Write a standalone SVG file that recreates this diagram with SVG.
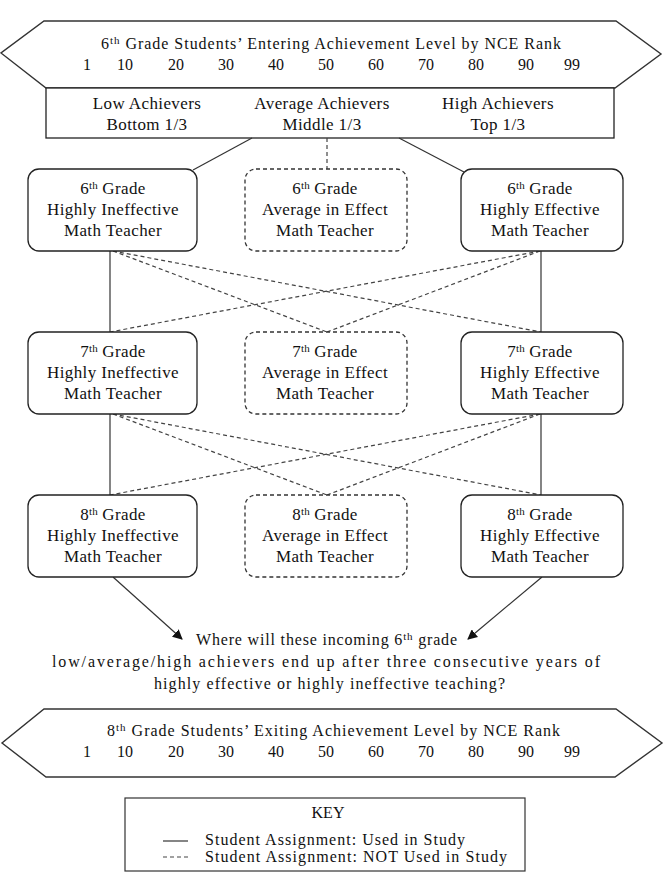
<svg xmlns="http://www.w3.org/2000/svg" width="672" height="879" viewBox="0 0 672 879">
<style>
text { font-family: "Liberation Serif", "Times New Roman", serif; font-size: 16px; fill: #111; }
.c { text-anchor: middle; }
.n { font-size: 17px; letter-spacing: 0.4px; }
.sup { font-size: 11px; letter-spacing: 0; }
.hex { fill: #fff; stroke: #333; stroke-width: 1.4; }
.box { fill: #fff; stroke: #222; stroke-width: 1.3; }
.dbox { fill: #fff; stroke: #333; stroke-width: 1.3; stroke-dasharray: 4 3; }
.solid { stroke: #333; stroke-width: 1.2; fill: none; }
.dash { stroke: #444; stroke-width: 1.2; stroke-dasharray: 4 3; fill: none; }
.arrow { stroke: #333; stroke-width: 1.2; fill: none; marker-end: url(#ah); }
</style>
<defs>
<marker id="ah" viewBox="0 0 10 10" refX="9" refY="5" markerWidth="10" markerHeight="10" markerUnits="userSpaceOnUse" orient="auto">
<path d="M0,0 L10,5 L0,10 z" fill="#111"/>
</marker>
</defs>
<rect width="672" height="879" fill="#fff"/>

<g id="entering">
<polygon class="hex" points="44,21 616,21 661,54 615,88 46,88 1,53"/>
<text x="101" y="49" textLength="460" lengthAdjust="spacing">6<tspan class="sup" dy="-5">th</tspan><tspan dy="5"> Grade Students’ Entering Achievement Level by NCE Rank</tspan></text>
<g class="c">
<text x="87" y="70">1</text><text x="125" y="70">10</text><text x="176" y="70">20</text><text x="226" y="70">30</text><text x="276" y="70">40</text><text x="326" y="70">50</text><text x="376" y="70">60</text><text x="426" y="70">70</text><text x="476" y="70">80</text><text x="526" y="70">90</text><text x="572" y="70">99</text>
</g>
</g>

<g id="achievers">
<rect class="box" x="46" y="88" width="568" height="50"/>
<text class="c n" x="147" y="109">Low Achievers</text>
<text class="c n" x="147" y="130">Bottom 1/3</text>
<text class="c n" x="322" y="109">Average Achievers</text>
<text class="c n" x="322" y="130">Middle 1/3</text>
<text class="c n" x="498" y="109">High Achievers</text>
<text class="c n" x="498" y="130">Top 1/3</text>
</g>

<g id="connectors">
<line class="solid" x1="252" y1="138" x2="193" y2="170"/>
<line class="dash" x1="327" y1="138" x2="327" y2="169"/>
<line class="solid" x1="399" y1="138" x2="464" y2="172"/>

<line class="solid" x1="110" y1="251" x2="110" y2="332"/>
<line class="solid" x1="541" y1="251" x2="541" y2="332"/>
<line class="dash" x1="113" y1="251" x2="327" y2="332"/>
<line class="dash" x1="113" y1="251" x2="541" y2="332"/>
<line class="dash" x1="540" y1="251" x2="110" y2="332"/>
<line class="dash" x1="540" y1="251" x2="327" y2="332"/>

<line class="solid" x1="110" y1="414" x2="110" y2="495"/>
<line class="solid" x1="541" y1="414" x2="541" y2="495"/>
<line class="dash" x1="113" y1="414" x2="327" y2="495"/>
<line class="dash" x1="113" y1="414" x2="541" y2="495"/>
<line class="dash" x1="540" y1="414" x2="110" y2="495"/>
<line class="dash" x1="540" y1="414" x2="327" y2="495"/>

<line class="arrow" x1="113" y1="577" x2="182" y2="639"/>
<line class="arrow" x1="542" y1="577" x2="468" y2="639"/>
</g>

<g id="g6-ineffective">
<rect class="box" x="28" y="169" width="169" height="82" rx="11"/>
<text class="c n" x="113" y="194">6<tspan class="sup" dy="-5">th</tspan><tspan dy="5"> Grade</tspan></text>
<text class="c n" x="113" y="215">Highly Ineffective</text>
<text class="c n" x="113" y="236">Math Teacher</text>
</g>
<g id="g6-average">
<rect class="dbox" x="245" y="169" width="162" height="82" rx="11"/>
<text class="c n" x="325" y="194">6<tspan class="sup" dy="-5">th</tspan><tspan dy="5"> Grade</tspan></text>
<text class="c n" x="325" y="215">Average in Effect</text>
<text class="c n" x="325" y="236">Math Teacher</text>
</g>
<g id="g6-effective">
<rect class="box" x="461" y="169" width="162" height="82" rx="11"/>
<text class="c n" x="540" y="194">6<tspan class="sup" dy="-5">th</tspan><tspan dy="5"> Grade</tspan></text>
<text class="c n" x="540" y="215">Highly Effective</text>
<text class="c n" x="540" y="236">Math Teacher</text>
</g>

<g id="g7-ineffective">
<rect class="box" x="28" y="332" width="169" height="82" rx="11"/>
<text class="c n" x="113" y="357">7<tspan class="sup" dy="-5">th</tspan><tspan dy="5"> Grade</tspan></text>
<text class="c n" x="113" y="378">Highly Ineffective</text>
<text class="c n" x="113" y="399">Math Teacher</text>
</g>
<g id="g7-average">
<rect class="dbox" x="245" y="332" width="162" height="82" rx="11"/>
<text class="c n" x="325" y="357">7<tspan class="sup" dy="-5">th</tspan><tspan dy="5"> Grade</tspan></text>
<text class="c n" x="325" y="378">Average in Effect</text>
<text class="c n" x="325" y="399">Math Teacher</text>
</g>
<g id="g7-effective">
<rect class="box" x="461" y="332" width="162" height="82" rx="11"/>
<text class="c n" x="540" y="357">7<tspan class="sup" dy="-5">th</tspan><tspan dy="5"> Grade</tspan></text>
<text class="c n" x="540" y="378">Highly Effective</text>
<text class="c n" x="540" y="399">Math Teacher</text>
</g>

<g id="g8-ineffective">
<rect class="box" x="28" y="495" width="169" height="82" rx="11"/>
<text class="c n" x="113" y="520">8<tspan class="sup" dy="-5">th</tspan><tspan dy="5"> Grade</tspan></text>
<text class="c n" x="113" y="541">Highly Ineffective</text>
<text class="c n" x="113" y="562">Math Teacher</text>
</g>
<g id="g8-average">
<rect class="dbox" x="245" y="495" width="162" height="82" rx="11"/>
<text class="c n" x="325" y="520">8<tspan class="sup" dy="-5">th</tspan><tspan dy="5"> Grade</tspan></text>
<text class="c n" x="325" y="541">Average in Effect</text>
<text class="c n" x="325" y="562">Math Teacher</text>
</g>
<g id="g8-effective">
<rect class="box" x="461" y="495" width="162" height="82" rx="11"/>
<text class="c n" x="540" y="520">8<tspan class="sup" dy="-5">th</tspan><tspan dy="5"> Grade</tspan></text>
<text class="c n" x="540" y="541">Highly Effective</text>
<text class="c n" x="540" y="562">Math Teacher</text>
</g>

<g id="question">
<text x="196" y="645" textLength="261" lengthAdjust="spacing">Where will these incoming 6<tspan class="sup" dy="-5">th</tspan><tspan dy="5"> grade</tspan></text>
<text x="52" y="667" textLength="548" lengthAdjust="spacing">low/average/high achievers end up after three consecutive years of</text>
<text x="154" y="689" textLength="351" lengthAdjust="spacing">highly effective or highly ineffective teaching?</text>
</g>

<g id="exiting">
<polygon class="hex" points="44,709 616,709 662,743 615,777 46,777 2,743"/>
<text x="107" y="736" textLength="453" lengthAdjust="spacing">8<tspan class="sup" dy="-5">th</tspan><tspan dy="5"> Grade Students’ Exiting Achievement Level by NCE Rank</tspan></text>
<g class="c">
<text x="87" y="757">1</text><text x="125" y="757">10</text><text x="176" y="757">20</text><text x="226" y="757">30</text><text x="276" y="757">40</text><text x="326" y="757">50</text><text x="376" y="757">60</text><text x="426" y="757">70</text><text x="476" y="757">80</text><text x="526" y="757">90</text><text x="572" y="757">99</text>
</g>
</g>

<g id="key">
<rect x="125" y="798" width="400" height="73" fill="#fff" stroke="#333" stroke-width="1.2"/>
<text class="c" x="328" y="818">KEY</text>
<line class="solid" x1="163" y1="841" x2="188" y2="841"/>
<text x="205" y="845" textLength="260" lengthAdjust="spacing">Student Assignment:  Used in Study</text>
<line class="dash" x1="163" y1="857" x2="188" y2="857"/>
<text x="205" y="862" textLength="302" lengthAdjust="spacing">Student Assignment:  NOT Used in Study</text>
</g>
</svg>
